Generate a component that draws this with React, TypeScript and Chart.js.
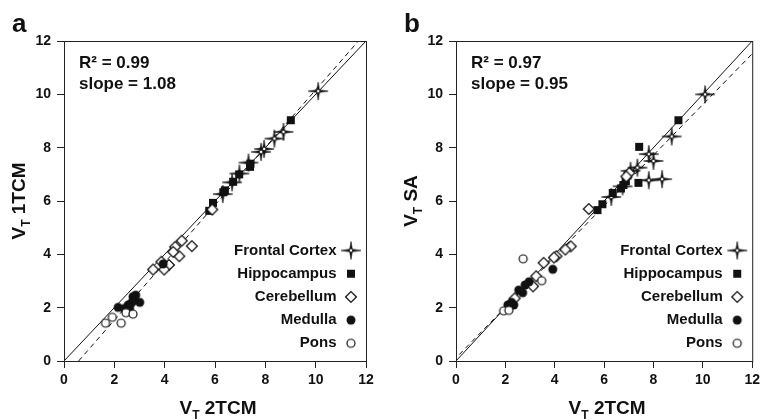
import React, { useEffect, useRef } from 'react';
import { Chart, registerables } from 'chart.js';

Chart.register(...registerables);

const FONT = "'Liberation Sans', Arial, Helvetica, sans-serif";

const axisTicks = [0, 2, 4, 6, 8, 10, 12];
const legendLabels = ['Frontal Cortex', 'Hippocampus', 'Cerebellum', 'Medulla', 'Pons'];

// ---------- Panel a: VT 1TCM vs VT 2TCM ----------
const aFrontalX = [10.1, 8.72, 8.36, 7.95, 7.83, 7.33, 6.97, 6.68, 6.31];
const aFrontalY = [10.12, 8.59, 8.34, 7.95, 7.84, 7.44, 7.03, 6.7, 6.26];
const aHippoX = [9.01, 7.41, 7.39, 6.96, 6.72, 6.39, 6.33, 5.92, 5.77];
const aHippoY = [9.03, 7.4, 7.28, 7.0, 6.72, 6.4, 6.33, 5.93, 5.63];
const aCereX = [5.89, 5.08, 4.68, 4.58, 4.42, 4.34, 4.17, 3.98, 3.87, 3.54];
const aCereY = [5.68, 4.31, 4.51, 3.93, 4.28, 4.09, 3.6, 3.43, 3.72, 3.43];
const aMedX = [3.94, 2.15, 2.4, 2.55, 2.61, 2.68, 2.74, 2.85, 2.81, 3.01];
const aMedY = [3.64, 2.01, 1.97, 2.1, 1.97, 2.18, 2.41, 2.47, 2.28, 2.2];
const aPonsX = [1.65, 1.92, 2.27, 2.46, 2.74];
const aPonsY = [1.42, 1.64, 1.42, 1.81, 1.76];
const aFitX = [0.58, 11.7];
const aFitY = [0, 12];
const aNote = ['R² = 0.99', 'slope = 1.08'];

// ---------- Panel b: VT SA vs VT 2TCM ----------
const bFrontalX = [10.09, 8.74, 7.81, 8.0, 7.35, 7.07, 7.81, 8.35, 6.29, 6.75];
const bFrontalY = [10.0, 8.42, 7.76, 7.5, 7.25, 7.13, 6.78, 6.82, 6.15, 6.55];
const bHippoX = [9.01, 7.42, 7.39, 6.88, 6.68, 6.35, 5.93, 5.73, 6.78];
const bHippoY = [9.03, 8.03, 6.68, 6.75, 6.47, 6.3, 5.88, 5.66, 6.6];
const bCereX = [7.02, 6.9, 5.38, 4.65, 4.43, 4.07, 3.97, 3.55, 3.25, 3.12, 2.38];
const bCereY = [7.05, 6.92, 5.7, 4.3, 4.18, 3.93, 3.88, 3.68, 3.18, 2.8, 2.35];
const bMedX = [3.92, 2.96, 2.8, 2.54, 2.7, 2.1, 2.34, 2.25];
const bMedY = [3.44, 2.97, 2.85, 2.66, 2.56, 2.1, 2.1, 2.2];
const bPonsX = [2.72, 3.47, 1.93, 2.14];
const bPonsY = [3.83, 3.01, 1.88, 1.9];
const bFitX = [0.13, 12];
const bFitY = [0.24, 11.52];
const bNote = ['R² = 0.97', 'slope = 0.95'];

const identityX = [0, 12];
const identityY = [0, 12];

type Kind = 'star' | 'square' | 'diamond' | 'dot' | 'ring';

function makeMarker(kind: Kind): HTMLCanvasElement {
  const c = document.createElement('canvas');
  const S = 24;
  c.width = S;
  c.height = S;
  const g = c.getContext('2d')!;
  const m = S / 2;
  g.lineWidth = 1.2;
  g.strokeStyle = '#111';
  g.fillStyle = '#111';
  if (kind === 'star') {
    const Lh = 10, Lv = 9, w = 1.3;
    g.beginPath();
    g.moveTo(m, m - Lv);
    g.lineTo(m + w, m - w);
    g.lineTo(m + Lh, m);
    g.lineTo(m + w, m + w);
    g.lineTo(m, m + Lv);
    g.lineTo(m - w, m + w);
    g.lineTo(m - Lh, m);
    g.lineTo(m - w, m - w);
    g.closePath();
    g.fill();
    g.lineWidth = 0.6;
    g.stroke();
    g.beginPath();
    g.arc(m, m, 1.9, 0, Math.PI * 2);
    g.fillStyle = '#fff';
    g.fill();
    g.lineWidth = 1;
    g.stroke();
  } else if (kind === 'square') {
    g.fillRect(m - 4, m - 4, 8, 8);
  } else if (kind === 'diamond') {
    const r = 5.4;
    g.beginPath();
    g.moveTo(m, m - r);
    g.lineTo(m + r, m);
    g.lineTo(m, m + r);
    g.lineTo(m - r, m);
    g.closePath();
    g.fillStyle = '#fff';
    g.fill();
    g.lineWidth = 1.3;
    g.stroke();
  } else if (kind === 'dot') {
    g.beginPath();
    g.arc(m, m, 4.5, 0, Math.PI * 2);
    g.fill();
  } else {
    g.beginPath();
    g.arc(m, m, 4, 0, Math.PI * 2);
    g.fillStyle = '#fff';
    g.fill();
    g.lineWidth = 1.2;
    g.stroke();
  }
  return c;
}

const kinds: Kind[] = ['star', 'square', 'diamond', 'dot', 'ring'];

function pts(xs: number[], ys: number[]) {
  return xs.map((x, i) => ({ x, y: ys[i] }));
}

interface PanelCfg {
  letter: string;
  yTitle: string;
  note: string[];
  series: [number[], number[]][];
  fit: [number[], number[]];
  yAxisWidth: number;
  rightPad: number;
}

function drawVT(ctx: CanvasRenderingContext2D, rest: string, x: number, y: number) {
  const big = `bold 19px ${FONT}`;
  const small = `bold 12px ${FONT}`;
  ctx.font = big;
  const wV = ctx.measureText('V').width;
  const wR = ctx.measureText(rest).width;
  ctx.font = small;
  const wT = ctx.measureText('T').width;
  const total = wV + wT + wR;
  let cx = x - total / 2;
  ctx.textBaseline = 'alphabetic';
  ctx.textAlign = 'left';
  const base = y + 7;
  ctx.font = big;
  ctx.fillText('V', cx, base);
  cx += wV;
  ctx.font = small;
  ctx.fillText('T', cx, base + 5);
  cx += wT;
  ctx.font = big;
  ctx.fillText(rest, cx, base);
}

function makeChart(canvas: HTMLCanvasElement, cfg: PanelCfg, markers: HTMLCanvasElement[]) {
  const decor = {
    id: 'decor',
    afterDraw(chart: any) {
      const { ctx, chartArea: a } = chart;
      ctx.save();
      ctx.strokeStyle = '#222';
      ctx.lineWidth = 1;
      ctx.strokeRect(a.left + 0.5, a.top + 0.5, a.right - a.left, a.bottom - a.top);
      ctx.fillStyle = '#111';
      ctx.font = `bold 26px ${FONT}`;
      ctx.textAlign = 'left';
      ctx.textBaseline = 'alphabetic';
      ctx.fillText(cfg.letter, a.left - 52, 32);
      ctx.font = `bold 17px ${FONT}`;
      ctx.textBaseline = 'middle';
      ctx.fillText(cfg.note[0], a.left + 15, a.top + 22.5);
      ctx.fillText(cfg.note[1], a.left + 15, a.top + 43.5);
      ctx.font = `bold 15px ${FONT}`;
      ctx.textAlign = 'right';
      legendLabels.forEach((lab, i) => {
        const yy = a.bottom - 110.5 + i * 23.2;
        ctx.fillText(lab, a.right - 29.5, yy);
        const mk = markers[i];
        ctx.drawImage(mk, a.right - 15 - mk.width / 2, yy - mk.height / 2);
      });
      drawVT(ctx, ' 2TCM', (a.left + a.right) / 2 + 3, 407);
      ctx.save();
      ctx.translate(a.left - 46, (a.top + a.bottom) / 2);
      ctx.rotate(-Math.PI / 2);
      drawVT(ctx, cfg.yTitle, 0, 0);
      ctx.restore();
      ctx.restore();
    },
  };

  const tickFont = { family: FONT, size: 14, weight: 'bold' as const };
  const datasets: any[] = cfg.series.map(([xs, ys], i) => ({
    type: 'scatter',
    label: legendLabels[i],
    data: pts(xs, ys),
    pointStyle: markers[i],
    pointRadius: 5,
    pointHoverRadius: 5,
    order: 5 - i,
  }));
  datasets.push({
    type: 'line',
    data: pts(identityX, identityY),
    borderColor: '#111',
    borderWidth: 1,
    pointRadius: 0,
    order: 10,
  });
  datasets.push({
    type: 'line',
    data: pts(cfg.fit[0], cfg.fit[1]),
    borderColor: '#111',
    borderWidth: 1,
    borderDash: [5, 4],
    pointRadius: 0,
    order: 11,
  });

  return new Chart(canvas, {
    type: 'scatter',
    data: { datasets },
    options: {
      animation: false,
      responsive: false,
      events: [],
      layout: { padding: { top: 41, right: cfg.rightPad, left: 0, bottom: 0 } },
      plugins: { legend: { display: false }, tooltip: { enabled: false } },
      scales: {
        x: {
          type: 'linear',
          min: 0,
          max: 12,
          afterBuildTicks: (s: any) => { s.ticks = axisTicks.map((v) => ({ value: v })); },
          afterFit: (s: any) => { s.height = 59; },
          ticks: { color: '#111', font: tickFont, padding: 4 },
          grid: { drawOnChartArea: false, tickLength: 7, color: '#222' },
          border: { color: '#222' },
        },
        y: {
          type: 'linear',
          min: 0,
          max: 12,
          afterBuildTicks: (s: any) => { s.ticks = axisTicks.map((v) => ({ value: v })); },
          afterFit: (s: any) => { s.width = cfg.yAxisWidth; },
          ticks: { color: '#111', font: tickFont, padding: 6 },
          grid: { drawOnChartArea: false, tickLength: 7, color: '#222' },
          border: { color: '#222' },
        },
      },
    },
    plugins: [decor],
  } as any);
}

const panelA: PanelCfg = {
  letter: 'a',
  yTitle: ' 1TCM',
  note: aNote,
  series: [[aFrontalX, aFrontalY], [aHippoX, aHippoY], [aCereX, aCereY], [aMedX, aMedY], [aPonsX, aPonsY]],
  fit: [aFitX, aFitY],
  yAxisWidth: 64,
  rightPad: 16,
};

const panelB: PanelCfg = {
  letter: 'b',
  yTitle: ' SA',
  note: bNote,
  series: [[bFrontalX, bFrontalY], [bHippoX, bHippoY], [bCereX, bCereY], [bMedX, bMedY], [bPonsX, bPonsY]],
  fit: [bFitX, bFitY],
  yAxisWidth: 74,
  rightPad: 7,
};

export default function App() {
  const refA = useRef<HTMLCanvasElement>(null);
  const refB = useRef<HTMLCanvasElement>(null);
  useEffect(() => {
    const markers = kinds.map(makeMarker);
    const ca = makeChart(refA.current!, panelA, markers);
    const cb = makeChart(refB.current!, panelB, markers);
    return () => { ca.destroy(); cb.destroy(); };
  }, []);
  return (
    <div style={{ position: 'fixed', left: 0, top: 0, width: 764, height: 420, background: '#fff' }}>
      <canvas ref={refA} width={382} height={420} style={{ position: 'absolute', left: 0, top: 0, width: 382, height: 420 }} />
      <canvas ref={refB} width={382} height={420} style={{ position: 'absolute', left: 382, top: 0, width: 382, height: 420 }} />
    </div>
  );
}
